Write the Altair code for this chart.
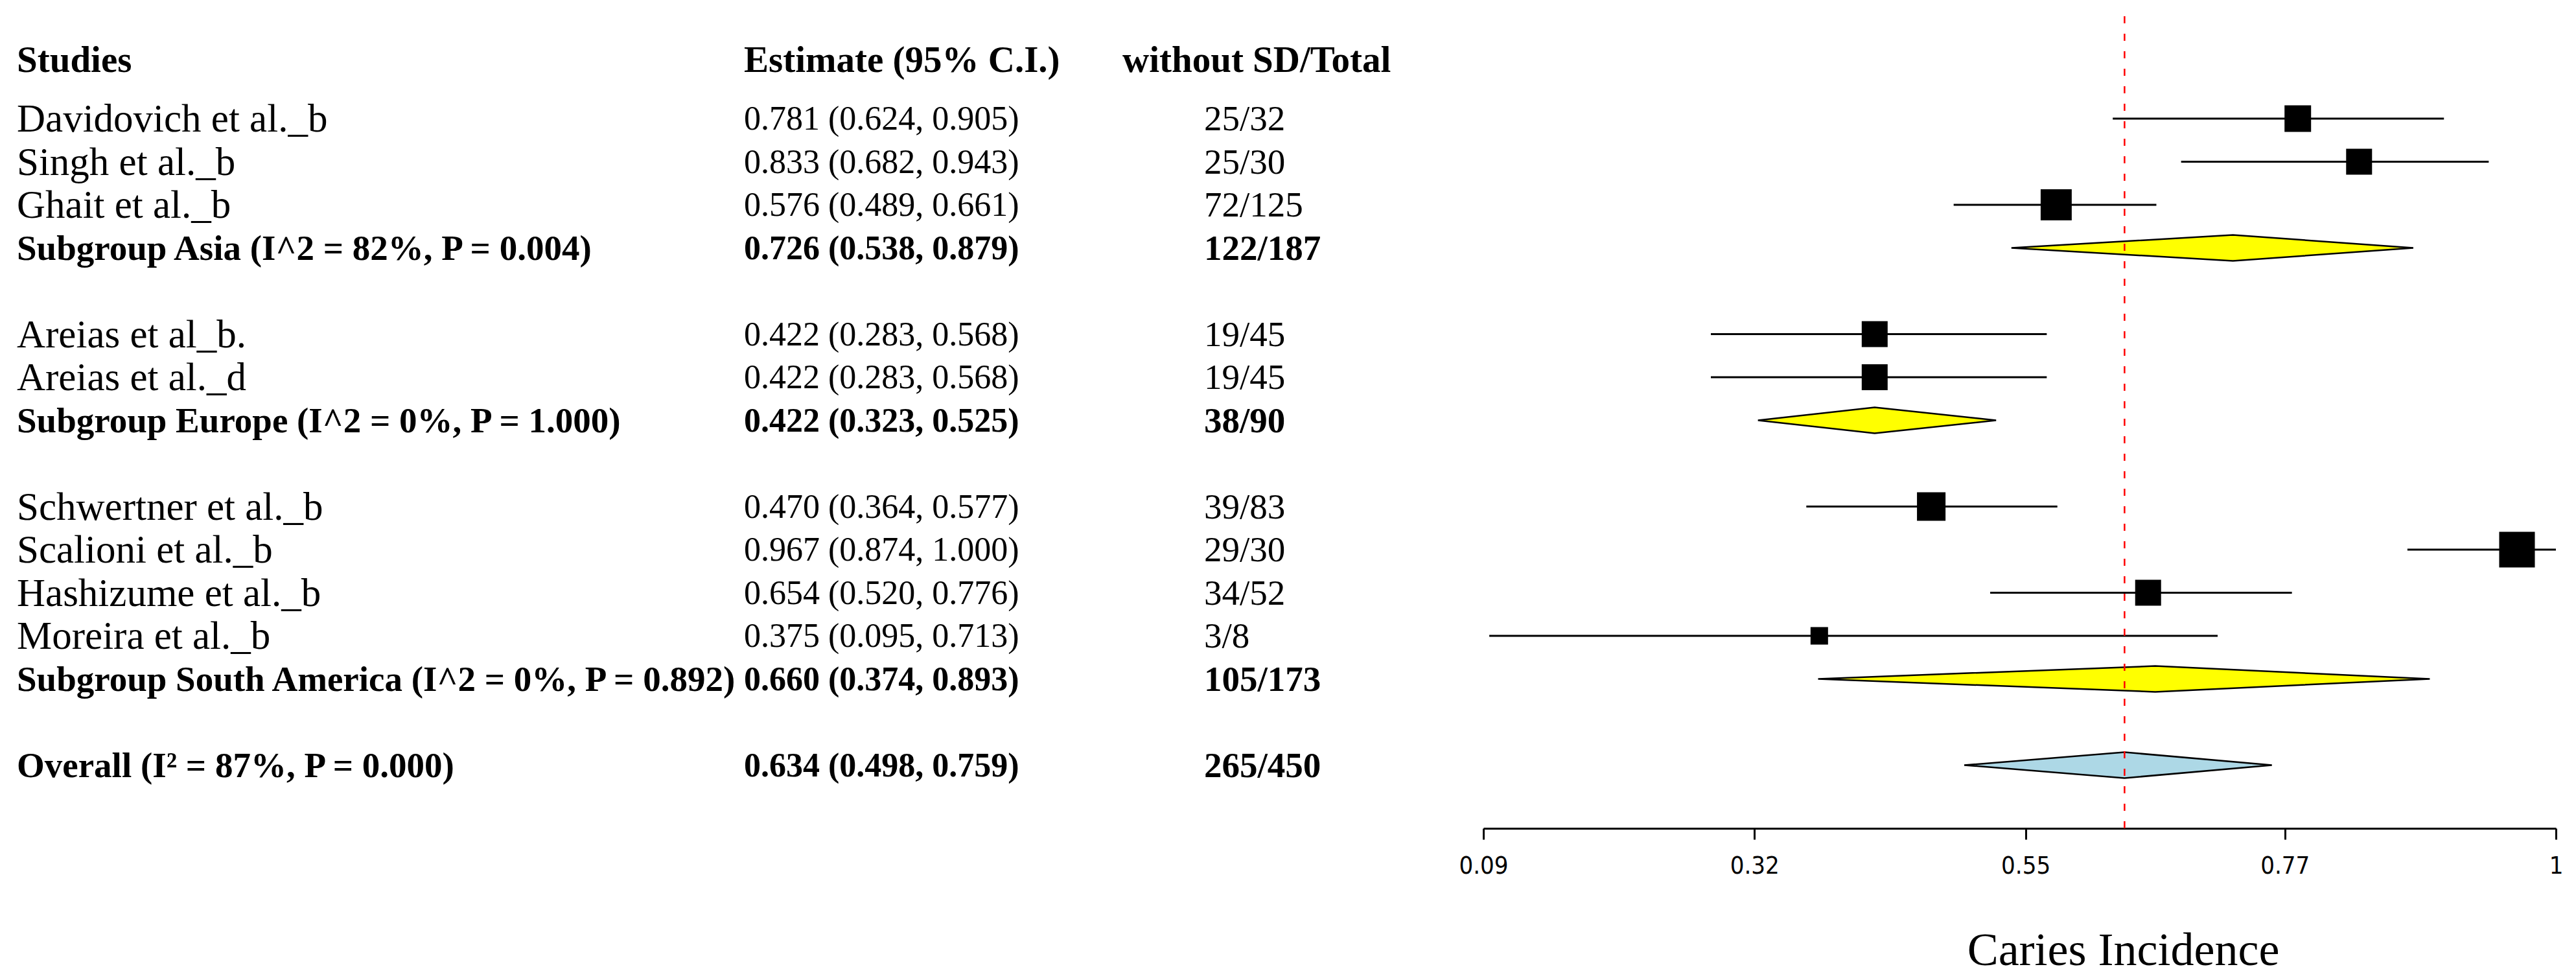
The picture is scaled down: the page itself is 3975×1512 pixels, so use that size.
import altair as alt
import pandas as pd

# ---------------- data ----------------
studies = ["Davidovich et al._b", "Singh et al._b", "Ghait et al._b",
           "Areias et al_b.", "Areias et al._d",
           "Schwertner et al._b", "Scalioni et al._b", "Hashizume et al._b", "Moreira et al._b"]
study_group = [0, 0, 0, 1, 1, 2, 2, 2, 2]
study_est = [0.781, 0.833, 0.576, 0.422, 0.422, 0.470, 0.967, 0.654, 0.375]
study_lo = [0.624, 0.682, 0.489, 0.283, 0.283, 0.364, 0.874, 0.520, 0.095]
study_hi = [0.905, 0.943, 0.661, 0.568, 0.568, 0.577, 1.000, 0.776, 0.713]
study_events = [25, 25, 72, 19, 19, 39, 29, 34, 3]
study_totals = [32, 30, 125, 45, 45, 83, 30, 52, 8]
study_weight = [16.8, 16.0, 23.0, 16.0, 16.0, 19.4, 30.3, 16.0, 7.3]

subgroup_labels = ["Subgroup Asia (I^2 = 82%, P = 0.004)",
                   "Subgroup Europe (I^2 = 0%, P = 1.000)",
                   "Subgroup South America  (I^2 = 0%, P = 0.892)"]
subgroup_est = [0.726, 0.422, 0.660]
subgroup_lo = [0.538, 0.323, 0.374]
subgroup_hi = [0.879, 0.525, 0.893]
subgroup_events = [122, 38, 105]
subgroup_totals = [187, 90, 173]

overall_label = "Overall (I\u00b2 = 87%, P = 0.000)"
overall_est = 0.634
overall_lo = 0.498
overall_hi = 0.759
overall_events = 265
overall_totals = 450

headers = ["Studies", "Estimate (95% C.I.)", "without SD/Total"]
axis_ticks = [0.09, 0.32, 0.55, 0.77, 1]
axis_domain = [0.09, 1]
x_title = "Caries Incidence"

# ---------------- layout / style constants ----------------
H = 1270
W = 3950
X_RANGE = [2281, 3936]
P_FIRST, P_STEP = 175, 66.5      # row centres
DIAMOND_HALF = 0.3
SIZE_PER_WEIGHT = 100
SERIF = "Liberation Serif"
CAP = 0.331                      # half cap-height / font-size

# ---------------- table ----------------
rows = []
prow = 0
for g in range(len(subgroup_labels)):
    for i in range(len(studies)):
        if study_group[i] != g:
            continue
        rows.append(dict(kind="study", label=studies[i], est=study_est[i], lo=study_lo[i],
                         hi=study_hi[i], w=study_weight[i], ev=study_events[i],
                         tot=study_totals[i], prow=prow))
        prow += 1
    rows.append(dict(kind="subgroup", label=subgroup_labels[g], est=subgroup_est[g],
                     lo=subgroup_lo[g], hi=subgroup_hi[g], w=None, ev=subgroup_events[g],
                     tot=subgroup_totals[g], prow=prow))
    prow += 2
rows.append(dict(kind="overall", label=overall_label, est=overall_est, lo=overall_lo,
                 hi=overall_hi, w=None, ev=overall_events, tot=overall_totals, prow=prow))
df = pd.DataFrame(rows)
df["ci_text"] = df.apply(lambda r: f"{r.est:.3f} ({r.lo:.3f}, {r.hi:.3f})", axis=1)
df["count_text"] = df.apply(lambda r: f"{int(r.ev)}/{int(r.tot)}", axis=1)

studies_df = df[df.kind == "study"].copy()
pooled_df = df[df.kind != "study"].copy()
overall_df = df[df.kind == "overall"].copy()

dia = []
for k, r in pooled_df.reset_index(drop=True).iterrows():
    dia.append(dict(id=k, kind=r.kind, x=r.lo, y=r.prow, y2=r.prow))
    dia.append(dict(id=k, kind=r.kind, x=r.est, y=r.prow - DIAMOND_HALF, y2=r.prow + DIAMOND_HALF))
    dia.append(dict(id=k, kind=r.kind, x=r.hi, y=r.prow, y2=r.prow))
dia_df = pd.DataFrame(dia)

# ---------------- scales / axis ----------------
XS = alt.Scale(domain=axis_domain, range=X_RANGE, nice=False, zero=False)
YP = alt.Scale(domain=[-P_FIRST / P_STEP, (H - P_FIRST) / P_STEP], reverse=True, nice=False, zero=False)

X_AXIS = alt.Axis(values=axis_ticks, format=".2~f", grid=False,
                  domainColor="black", domainWidth=3,
                  tickColor="black", tickWidth=3, tickSize=17,
                  labelFont="Liberation Sans Narrow, DejaVu Sans Condensed, Liberation Sans",
                  labelFontSize=38, labelColor="black", labelPadding=22,
                  labelFlush=False, labelOverlap=False,
                  titleFont=SERIF, titleFontSize=72, titleFontWeight="normal",
                  titleColor="black", titleX=3268, titleY=210, titleBaseline="alphabetic")


def xenc(field):
    return alt.X(field, scale=XS, axis=X_AXIS, title=x_title)


ci = alt.Chart(studies_df).mark_rule(color="black", strokeWidth=3).encode(
    x=xenc("lo:Q"), x2="hi:Q", y=alt.Y("prow:Q", scale=YP, axis=None))

boxes = alt.Chart(studies_df).mark_square(filled=True, color="black", opacity=1).encode(
    x=xenc("est:Q"), y=alt.Y("prow:Q", scale=YP, axis=None),
    size=alt.Size("w:Q", scale=alt.Scale(domain=[0, max(study_weight)],
                                         range=[0, max(study_weight) * SIZE_PER_WEIGHT]),
                  legend=None))

diamonds = alt.Chart(dia_df).mark_area(stroke="black", strokeWidth=2.5, opacity=1,
                                       fillOpacity=1).encode(
    x=xenc("x:Q"),
    y=alt.Y("y:Q", scale=YP, axis=None, stack=None), y2="y2:Q",
    fill=alt.Fill("kind:N", scale=alt.Scale(domain=["subgroup", "overall"],
                                            range=["#ffff00", "#add8e6"]), legend=None),
    detail="id:N")

ref = alt.Chart(overall_df).mark_rule(color="red", strokeWidth=2.5, strokeDash=[11, 16]).encode(
    x=xenc("est:Q"), y=alt.value(17), y2=alt.value(H))


def text_layer(data, field, xpx, bold, size):
    return alt.Chart(data).mark_text(align="left", baseline="alphabetic", font=SERIF,
                                     fontSize=size, dy=round(size * CAP), color="black",
                                     fontWeight="bold" if bold else "normal").encode(
        x=alt.value(xpx), y=alt.Y("prow:Q", scale=YP, axis=None), text=f"{field}:N")


NAME_X, EST_X, CNT_X = 18, 1140, 1850
names_reg = text_layer(studies_df, "label", NAME_X, False, 61)
names_bold = text_layer(pooled_df, "label", NAME_X, True, 55)
ci_reg = text_layer(studies_df, "ci_text", EST_X, False, 52)
ci_bold = text_layer(pooled_df, "ci_text", EST_X, True, 52)
cnt_reg = text_layer(studies_df, "count_text", CNT_X, False, 55)
cnt_bold = text_layer(pooled_df, "count_text", CNT_X, True, 55)

hdr_x = [NAME_X, EST_X, 1724]
hdr_layers = [
    alt.Chart(overall_df).mark_text(text=h, align="left", baseline="alphabetic", font=SERIF,
                                    fontSize=57, fontWeight="bold", color="black").encode(
        x=alt.value(xp), y=alt.value(103))
    for h, xp in zip(headers, hdr_x)
]

chart = alt.layer(
    ci, boxes, diamonds,
    names_reg, names_bold, ci_reg, ci_bold, cnt_reg, cnt_bold, *hdr_layers,
    ref,
).properties(
    width=W, height=H, padding={"left": 0, "top": 0, "right": 0, "bottom": 4},
    background="white",
).configure_view(stroke=None)

chart.save("out.html", embed_options={"renderer": "svg", "actions": False})
